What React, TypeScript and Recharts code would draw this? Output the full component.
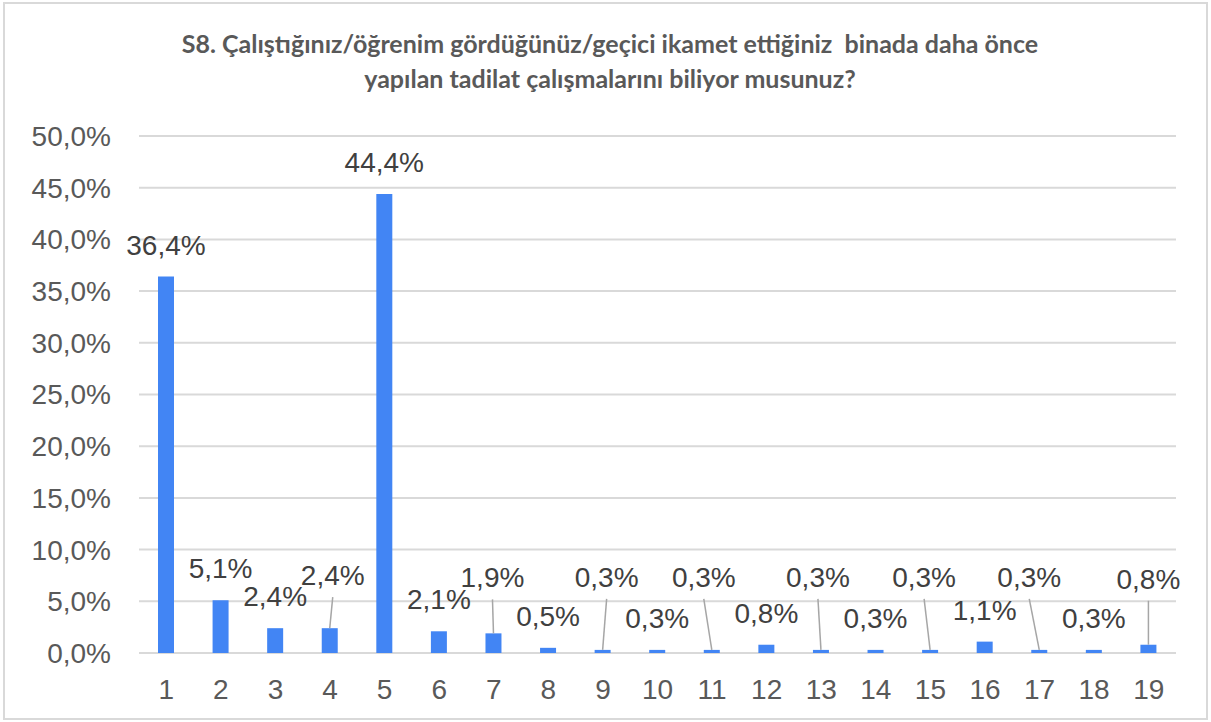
import { Bar, BarChart, CartesianGrid, LabelList, XAxis, YAxis } from "recharts";

const categories = ["1", "2", "3", "4", "5", "6", "7", "8", "9", "10", "11", "12", "13", "14", "15", "16", "17", "18", "19"];
const shares = [36.4, 5.1, 2.4, 2.4, 44.4, 2.1, 1.9, 0.5, 0.3, 0.3, 0.3, 0.8, 0.3, 0.3, 0.3, 1.1, 0.3, 0.3, 0.8];
const yTicks = [0, 5, 10, 15, 20, 25, 30, 35, 40, 45, 50];

// label nudges (dx, extra lift) for the labels that were dragged up with a leader line
const labelShiftX = [0, 0, 0, 3, 0, 0, -1, 0, 4, 0, -8, 0, -3, 0, -6, 0, -10, 0, 0];
const labelLift = [0, 0, 0, 21, 0, 0, 24, 0, 41, 0, 41, 0, 41, 0, 41, 0, 41, 0, 34];

const data = categories.map((name, i) => ({ name, value: shares[i] }));

const pct = (v: number) => v.toFixed(1).replace(".", ",") + "%";
const FONT = "'Liberation Sans', Arial, sans-serif";

function BarLabel(props: any) {
  const { x, y, width, index, value } = props;
  const bx = Number(x) + Number(width) / 2;
  const top = Number(y);
  const cx = bx + labelShiftX[index];
  const cy = top - 32 - labelLift[index];
  return (
    <g>
      {labelLift[index] > 0 && (
        <line x1={cx} y1={cy + 22} x2={bx} y2={top} stroke="#a6a6a6" strokeWidth={1.5} />
      )}
      <text x={cx} y={cy} dy="0.355em" textAnchor="middle" fill="#404040" fontSize={28} fontFamily={FONT}>
        {pct(Number(value))}
      </text>
    </g>
  );
}

export default function App() {
  return (
    <div style={{ position: "absolute", left: 0, top: 0, width: 1211, height: 722, background: "#fff" }}>
      <div
        style={{
          position: "absolute",
          left: 3,
          top: 2,
          width: 1201,
          height: 714,
          border: "2px solid #d9d9d9",
        }}
      />
      <div
        style={{
          position: "absolute",
          left: 0,
          top: 26,
          width: 1220,
          textAlign: "center",
          fontFamily: "Lato, sans-serif",
          fontWeight: 700,
          fontSize: 25,
          lineHeight: "35px",
          color: "#595959",
        }}
      >
        S8. Çalıştığınız/öğrenim gördüğünüz/geçici ikamet ettiğiniz&nbsp; binada daha önce
        <br />
        yapılan tadilat çalışmalarını biliyor musunuz?
      </div>
      <div style={{ position: "absolute", left: 0, top: 0 }}>
        <BarChart
          width={1211}
          height={722}
          data={data}
          margin={{ top: 136, right: 35, bottom: 29, left: 0 }}
          barSize={16}
        >
          <CartesianGrid vertical={false} stroke="#d9d9d9" strokeWidth={2} />
          <XAxis
            dataKey="name"
            axisLine={false}
            tickLine={false}
            tickSize={0}
            tickMargin={26}
            height={40}
            interval={0}
            tick={{ fill: "#595959", fontSize: 28, fontFamily: FONT }}
          />
          <YAxis
            domain={[0, 50]}
            ticks={yTicks}
            width={139}
            axisLine={false}
            tickLine={false}
            tickSize={0}
            tickMargin={28}
            tickFormatter={pct}
            tick={{ fill: "#595959", fontSize: 28, fontFamily: FONT }}
          />
          <Bar dataKey="value" fill="#4285f4" isAnimationActive={false}>
            <LabelList dataKey="value" content={BarLabel} />
          </Bar>
        </BarChart>
      </div>
    </div>
  );
}
